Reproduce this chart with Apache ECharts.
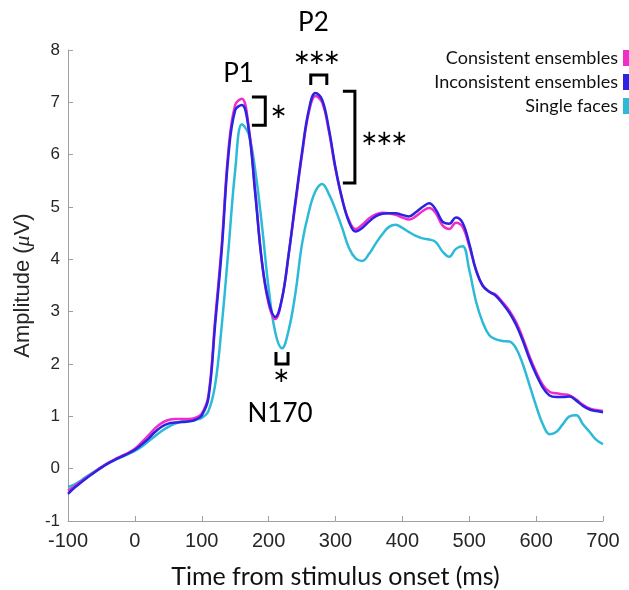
<!DOCTYPE html>
<html>
<head>
<meta charset="utf-8">
<script src="https://cdn.jsdelivr.net/npm/echarts@6/dist/echarts.min.js"></script>
<style>
  html, body { margin: 0; padding: 0; background: #fff; }
  #chart { width: 629px; height: 590px; }
</style>
</head>
<body>
<div id="chart"></div>
<script>
'use strict';
// time points (ms), 10 ms steps
var times = [];
for (var t = -100; t <= 700; t += 10) times.push(t);

var consistent = [
  -0.42, -0.33, -0.24, -0.15, -0.06, 0.03, 0.11, 0.18, 0.24, 0.30,
  0.38, 0.50, 0.63, 0.77, 0.87, 0.93, 0.95, 0.95, 0.95, 0.97,
  1.05, 1.40, 2.85, 4.30, 6.10, 6.95, 7.07, 6.55, 5.30, 3.95,
  3.15, 2.86, 3.25, 4.10, 5.05, 6.00, 6.80, 7.12, 7.00, 6.45,
  5.72, 5.15, 4.75, 4.58, 4.66, 4.78, 4.86, 4.89, 4.88, 4.85,
  4.80, 4.76, 4.82, 4.92, 4.98, 4.88, 4.65, 4.58, 4.70, 4.62,
  4.25, 3.80, 3.50, 3.38, 3.32, 3.18, 3.02, 2.80, 2.50, 2.15,
  1.85, 1.60, 1.47, 1.44, 1.42, 1.40, 1.32, 1.22, 1.15, 1.12,
  1.10
];
var inconsistent = [
  -0.48, -0.36, -0.26, -0.16, -0.07, 0.02, 0.10, 0.17, 0.23, 0.29,
  0.36, 0.46, 0.57, 0.70, 0.80, 0.86, 0.88, 0.89, 0.90, 0.93,
  1.02, 1.35, 2.75, 4.20, 6.00, 6.85, 6.95, 6.50, 5.25, 3.95,
  3.20, 2.90, 3.25, 4.10, 5.10, 6.05, 6.85, 7.18, 7.05, 6.50,
  5.75, 5.15, 4.72, 4.53, 4.60, 4.72, 4.82, 4.87, 4.88, 4.88,
  4.85, 4.82, 4.90, 5.00, 5.07, 4.95, 4.72, 4.68, 4.80, 4.70,
  4.30, 3.80, 3.50, 3.38, 3.30, 3.15, 2.98, 2.75, 2.45, 2.10,
  1.80, 1.55, 1.40, 1.37, 1.37, 1.38, 1.30, 1.20, 1.13, 1.10,
  1.08
];
var single = [
  -0.35, -0.30, -0.22, -0.13, -0.05, 0.03, 0.10, 0.17, 0.22, 0.28,
  0.34, 0.42, 0.52, 0.62, 0.72, 0.80, 0.86, 0.90, 0.92, 0.94,
  0.97, 1.10, 1.60, 2.75, 4.20, 5.70, 6.58, 6.40, 5.70, 4.65,
  3.45, 2.60, 2.30, 2.65, 3.35, 4.30, 4.90, 5.30, 5.44, 5.25,
  4.95, 4.60, 4.22, 4.02, 3.97, 4.10, 4.30, 4.48, 4.62, 4.66,
  4.60, 4.52, 4.45, 4.40, 4.38, 4.33, 4.15, 4.05, 4.20, 4.25,
  3.80, 3.20, 2.80, 2.55, 2.47, 2.44, 2.43, 2.30, 2.00, 1.60,
  1.20, 0.85, 0.66, 0.70, 0.85, 1.00, 1.02, 0.85, 0.70, 0.55,
  0.47
];

var seriesNames = ['Consistent ensembles', 'Inconsistent ensembles', 'Single faces'];
var seriesColors = ['#f22cc9', '#2b22e2', '#2cbad8'];

// annotation labels in data coordinates [time, amplitude]
var textLabels = [
  { text: 'P1', at: [155, 7.61] },
  { text: 'P2', at: [267, 8.58] },
  { text: 'N170', at: [217, 1.10] }
];
// significance stars: count and position
var starLabels = [
  { count: 1, at: [215, 6.89] },
  { count: 3, at: [272, 7.92] },
  { count: 3, at: [373, 6.36] },
  { count: 1, at: [219, 1.83] }
];
// brackets: polyline corners
var brackets = [
  [[175, 7.1], [195, 7.1], [195, 6.56], [175, 6.56]],
  [[263, 7.33], [263, 7.52], [287, 7.52], [287, 7.33]],
  [[311, 7.21], [329, 7.21], [329, 5.46], [311, 5.46]],
  [[211, 2.23], [211, 2.0], [229, 2.0], [229, 2.23]]
];

function pairs(vals) {
  return times.map(function (t, i) { return [t, vals[i]]; });
}

var chart = echarts.init(document.getElementById('chart'));
var lineSeries = [
  { name: seriesNames[2], data: pairs(single), color: seriesColors[2] },
  { name: seriesNames[0], data: pairs(consistent), color: seriesColors[0] },
  { name: seriesNames[1], data: pairs(inconsistent), color: seriesColors[1] }
].map(function (s) {
  return {
    name: s.name,
    type: 'line',
    data: s.data,
    smooth: 0.4,
    showSymbol: false,
    color: s.color,
    lineStyle: { width: 2.5, color: s.color }
  };
});

chart.setOption({
  animation: false,
  backgroundColor: '#fff',
  grid: { left: 68, right: 26, top: 50, bottom: 69, outerBoundsMode: 'none', containLabel: false },
  legend: {
    data: seriesNames,
    orient: 'vertical',
    align: 'right',
    right: 0,
    top: 49,
    padding: 0,
    icon: 'rect',
    itemWidth: 6,
    itemHeight: 16,
    itemGap: 6,
    textStyle: { fontFamily: 'Lato', fontSize: 18, color: '#111', lineHeight: 18 }
  },
  xAxis: {
    type: 'value',
    min: -100,
    max: 700,
    interval: 100,
    name: 'Time from stimulus onset (ms)',
    nameLocation: 'middle',
    nameGap: 43,
    nameTextStyle: { fontFamily: 'Lato', fontSize: 25, color: '#111' },
    axisLine: { show: true, onZero: false, lineStyle: { color: '#a0a0a0', width: 1 } },
    axisTick: { show: true, inside: true, length: 5, lineStyle: { color: '#a0a0a0' } },
    axisLabel: { fontFamily: 'Liberation Sans', fontSize: 20, color: '#262626', margin: 10 },
    splitLine: { show: false }
  },
  yAxis: {
    type: 'value',
    min: -1,
    max: 8,
    interval: 1,
    name: 'Amplitude ({i|μ}V)',
    nameLocation: 'middle',
    nameGap: 30,
    nameTextStyle: {
      fontFamily: 'Liberation Sans', fontSize: 22, color: '#262626',
      rich: { i: { fontFamily: 'Liberation Serif', fontStyle: 'italic', fontSize: 22, color: '#262626' } }
    },
    axisLine: { show: true, onZero: false, lineStyle: { color: '#a0a0a0', width: 1 } },
    axisTick: { show: true, inside: true, length: 5, lineStyle: { color: '#a0a0a0' } },
    axisLabel: { fontFamily: 'Liberation Sans', fontSize: 17, color: '#262626', margin: 8 },
    splitLine: { show: false }
  },
  series: lineSeries
});

// annotations placed through the chart's own scales
function px(p) { return chart.convertToPixel({ gridIndex: 0 }, p); }
var graphics = [];
brackets.forEach(function (b) {
  graphics.push({
    type: 'polyline',
    shape: { points: b.map(px) },
    style: { stroke: '#000', lineWidth: 3, fill: null },
    z: 100
  });
});
textLabels.forEach(function (l) {
  var p = px(l.at);
  graphics.push({
    type: 'text', x: p[0], y: p[1] + 3, z: 100,
    style: {
      text: l.text, fontFamily: 'Lato', fontSize: 26, fill: '#000',
      align: 'center', verticalAlign: 'middle'
    }
  });
});
starLabels.forEach(function (s) {
  var p = px(s.at);
  for (var k = 0; k < s.count; k++) {
    graphics.push({
      type: 'text', x: p[0] + (k - (s.count - 1) / 2) * 15, y: p[1] + 4, z: 100,
      style: {
        text: '∗', fontFamily: 'DejaVu Sans', fontSize: 21, fill: '#000',
        align: 'center', verticalAlign: 'middle'
      }
    });
  }
});
chart.setOption({ graphic: graphics });
</script>
</body>
</html>
